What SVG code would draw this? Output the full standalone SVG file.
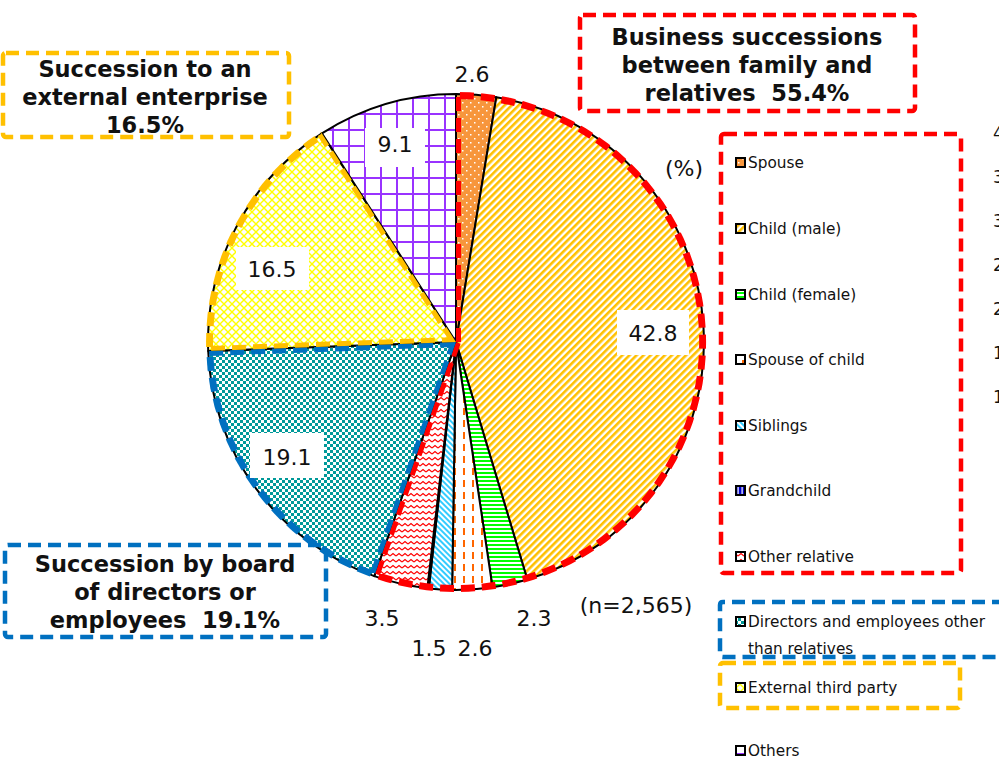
<svg xmlns="http://www.w3.org/2000/svg" width="999" height="760" viewBox="0 0 999 760">
<style>
.lbl{font-family:"DejaVu Sans",Verdana,sans-serif;font-size:22px;fill:#111;text-anchor:middle}
.leg{font-family:"DejaVu Sans",Verdana,sans-serif;font-size:15.3px;fill:#111}
.ttl{font-family:"DejaVu Sans",Verdana,sans-serif;font-size:22.5px;font-weight:bold;fill:#111;text-anchor:middle;white-space:pre}
.axis{font-family:"DejaVu Sans",Verdana,sans-serif;font-size:17px;fill:#111}
.slice{stroke:#000;stroke-width:2;stroke-linejoin:round}
.mk{stroke:#000;stroke-width:2}
.bg{fill:#fff}
.gred{fill:none;stroke:#FF0000;stroke-width:10;stroke-dasharray:14 7}
.gblue{fill:none;stroke:#0070C0;stroke-width:10;stroke-dasharray:14 7}
.gyel{fill:none;stroke:#FFC000;stroke-width:10;stroke-dasharray:14 7}
.bred{fill:none;stroke:#FF0000;stroke-width:4.5;stroke-dasharray:13 7}
.bblue{fill:none;stroke:#0070C0;stroke-width:4.5;stroke-dasharray:13 7}
.byel{fill:none;stroke:#FFC000;stroke-width:4.5;stroke-dasharray:13 7}
</style>
<defs>
<pattern id="pSpouse" width="8" height="8" patternUnits="userSpaceOnUse">
<rect width="8" height="8" fill="#F7963C"/>
<rect x="2" y="2" width="1.5" height="1.5" fill="#fff"/>
<rect x="6" y="6" width="1.5" height="1.5" fill="#fff"/>
</pattern>
<pattern id="pChildM" width="5" height="5" patternUnits="userSpaceOnUse" patternTransform="rotate(45)">
<rect width="5" height="5" fill="#fff"/>
<rect width="2.6" height="5" fill="#FFC000"/>
</pattern>
<pattern id="pChildF" width="4" height="4" patternUnits="userSpaceOnUse">
<rect width="4" height="4" fill="#fff"/>
<rect width="4" height="2" fill="#00FF00"/>
</pattern>
<pattern id="pSpouseC" width="9" height="12" patternUnits="userSpaceOnUse">
<rect width="9" height="12" fill="#fff"/>
<rect x="4" y="0" width="2" height="7" fill="#FF6600"/>
</pattern>
<pattern id="pSib" width="4" height="4" patternUnits="userSpaceOnUse" patternTransform="rotate(-45)">
<rect width="4" height="4" fill="#fff"/>
<rect width="2" height="4" fill="#33CCFF"/>
</pattern>
<pattern id="pGrand" width="4" height="4" patternUnits="userSpaceOnUse">
<rect width="4" height="4" fill="#0000CC"/>
<rect x="1.5" width="1.2" height="4" fill="#fff"/>
</pattern>
<pattern id="pOtherRel" width="6" height="6" patternUnits="userSpaceOnUse">
<rect width="6" height="6" fill="#fff"/>
<path d="M0 4 L3 1.5 L6 4" fill="none" stroke="#FF0000" stroke-width="1.2"/>
</pattern>
<pattern id="pDir" width="6" height="6" patternUnits="userSpaceOnUse">
<rect width="6" height="6" fill="#fff"/>
<rect width="3" height="3" fill="#009999"/>
<rect x="3" y="3" width="3" height="3" fill="#009999"/>
</pattern>
<pattern id="pExt" width="8" height="8" patternUnits="userSpaceOnUse">
<rect width="8" height="8" fill="#fff"/>
<path d="M0 0 L8 8 M8 0 L0 8" stroke="#FFFF00" stroke-width="1.4"/>
</pattern>
<pattern id="pOthers" width="16" height="16" patternUnits="userSpaceOnUse">
<rect width="16" height="16" fill="#fff"/>
<path d="M13 0 V16 M0 2 H16" stroke="#9933FF" stroke-width="2"/>
</pattern>
<clipPath id="cFam"><path d="M456 342 L456 92 A250 250 0 1 1 373.6 578 Z"/></clipPath>
<clipPath id="cDir"><path d="M456 342 L373.6 578 A250 250 0 0 1 206.2 351 Z"/></clipPath>
<clipPath id="cExt"><path d="M456 342 L206.2 351 A250 250 0 0 1 320.8 131.7 Z"/></clipPath>
</defs>
<rect width="999" height="760" fill="#fff"/>

<g id="pie">
<path id="s-spouse" class="slice" fill="url(#pSpouse)" d="M456 342 L456 94 A248 248 0 0 1 496.3 97.3 Z"/>
<path id="s-childm" class="slice" fill="url(#pChildM)" d="M456 342 L496.3 97.3 A248 248 0 0 1 527.3 579.5 Z"/>
<path id="s-childf" class="slice" fill="url(#pChildF)" d="M456 342 L527.3 579.5 A248 248 0 0 1 492.5 587.3 Z"/>
<path id="s-spousec" class="slice" fill="url(#pSpouseC)" d="M456 342 L492.5 587.3 A248 248 0 0 1 452.1 590 Z"/>
<path id="s-sib" class="slice" fill="url(#pSib)" d="M456 342 L452.1 590 A248 248 0 0 1 428.8 588.5 Z"/>
<path id="s-grand" class="slice" fill="url(#pGrand)" d="M456 342 L428.8 588.5 A248 248 0 0 1 427.3 588.3 Z"/>
<path id="s-otherrel" class="slice" fill="url(#pOtherRel)" d="M456 342 L427.3 588.3 A248 248 0 0 1 374.3 576.1 Z"/>
<path id="s-dir" class="slice" fill="url(#pDir)" d="M456 342 L374.3 576.1 A248 248 0 0 1 208.2 351 Z"/>
<path id="s-ext" class="slice" fill="url(#pExt)" d="M456 342 L208.2 351 A248 248 0 0 1 321.9 133.4 Z"/>
<path id="s-others" class="slice" fill="url(#pOthers)" d="M456 342 L321.9 133.4 A248 248 0 0 1 456 94 Z"/>
</g>

<g id="group-outlines">
<path class="gred" clip-path="url(#cFam)" d="M456 342 L456 94 A248 248 0 1 1 374.3 576.1 Z"/>
<path class="gblue" clip-path="url(#cDir)" d="M456 342 L374.3 576.1 A248 248 0 0 1 208.2 351 Z"/>
<path class="gyel" clip-path="url(#cExt)" d="M456 342 L208.2 351 A248 248 0 0 1 321.9 133.4 Z"/>
</g>

<g id="data-labels">
<rect class="bg" x="365" y="128" width="60" height="39"/>
<text class="lbl" x="395" y="152">9.1</text>
<rect class="bg" x="236" y="247" width="73" height="43"/>
<text class="lbl" x="272" y="277">16.5</text>
<rect class="bg" x="617" y="310" width="72" height="45"/>
<text class="lbl" x="653" y="341">42.8</text>
<rect class="bg" x="250" y="433" width="74" height="45"/>
<text class="lbl" x="287" y="465">19.1</text>
<text class="lbl" x="472" y="82">2.6</text>
<text class="lbl" x="534" y="626">2.3</text>
<text class="lbl" x="475" y="656">2.6</text>
<text class="lbl" x="429" y="656">1.5</text>
<text class="lbl" x="382" y="626">3.5</text>
<text class="lbl" x="684" y="176">(%)</text>
<text class="lbl" x="636" y="613">(n=2,565)</text>
</g>

<g id="box-family">
<rect class="bred" x="580" y="15" width="335" height="96" rx="3"/>
<text class="ttl" x="747" y="45">Business successions</text>
<text class="ttl" x="747" y="73">between family and</text>
<text class="ttl" x="747" y="101" xml:space="preserve">relatives  55.4%</text>
</g>
<g id="box-external">
<rect class="byel" x="3" y="53" width="286" height="84" rx="3"/>
<text class="ttl" x="145" y="77">Succession to an</text>
<text class="ttl" x="145" y="105">external enterprise</text>
<text class="ttl" x="145" y="133">16.5%</text>
</g>
<g id="box-directors">
<rect class="bblue" x="5" y="545" width="321" height="92" rx="3"/>
<text class="ttl" x="165" y="572">Succession by board</text>
<text class="ttl" x="165" y="600">of directors or</text>
<text class="ttl" x="165" y="628" xml:space="preserve">employees  19.1%</text>
</g>

<g id="legend">
<rect class="bred" x="721" y="134" width="240" height="439" rx="3"/>
<path class="bblue" d="M1005 602 H723 Q720 602 720 605 V654 Q720 657 723 657 H1005"/>
<rect class="byel" x="720" y="663" width="240" height="45" rx="3"/>
<g id="leg-spouse"><rect class="mk" x="736" y="158" width="9" height="9" fill="url(#pSpouse)"/><text class="leg" x="748" y="168">Spouse</text></g>
<g id="leg-childm"><rect class="mk" x="736" y="224" width="9" height="9" fill="url(#pChildM)"/><text class="leg" x="748" y="234">Child (male)</text></g>
<g id="leg-childf"><rect class="mk" x="736" y="290" width="9" height="9" fill="url(#pChildF)"/><text class="leg" x="748" y="300">Child (female)</text></g>
<g id="leg-spousec"><rect class="mk" x="736" y="355" width="9" height="9" fill="url(#pSpouseC)"/><text class="leg" x="748" y="365">Spouse of child</text></g>
<g id="leg-sib"><rect class="mk" x="736" y="421" width="9" height="9" fill="url(#pSib)"/><text class="leg" x="748" y="431">Siblings</text></g>
<g id="leg-grand"><rect class="mk" x="736" y="486" width="9" height="9" fill="url(#pGrand)"/><text class="leg" x="748" y="496">Grandchild</text></g>
<g id="leg-otherrel"><rect class="mk" x="736" y="552" width="9" height="9" fill="url(#pOtherRel)"/><text class="leg" x="748" y="562">Other relative</text></g>
<g id="leg-dir"><rect class="mk" x="736" y="617" width="9" height="9" fill="url(#pDir)"/><text class="leg" x="748" y="627">Directors and employees other</text><text class="leg" x="748" y="654">than relatives</text></g>
<g id="leg-ext"><rect class="mk" x="736" y="683" width="9" height="9" fill="url(#pExt)"/><text class="leg" x="748" y="693">External third party</text></g>
<g id="leg-others"><rect class="mk" x="736" y="746" width="9" height="9" fill="url(#pOthers)"/><text class="leg" x="748" y="756">Others</text></g>
</g>

<g id="cut-axis">
<text class="axis" x="993" y="139">4</text>
<text class="axis" x="993" y="183">3</text>
<text class="axis" x="993" y="227">3</text>
<text class="axis" x="993" y="271">2</text>
<text class="axis" x="993" y="315">2</text>
<text class="axis" x="993" y="359">1</text>
<text class="axis" x="993" y="403">1</text>
</g>
</svg>
